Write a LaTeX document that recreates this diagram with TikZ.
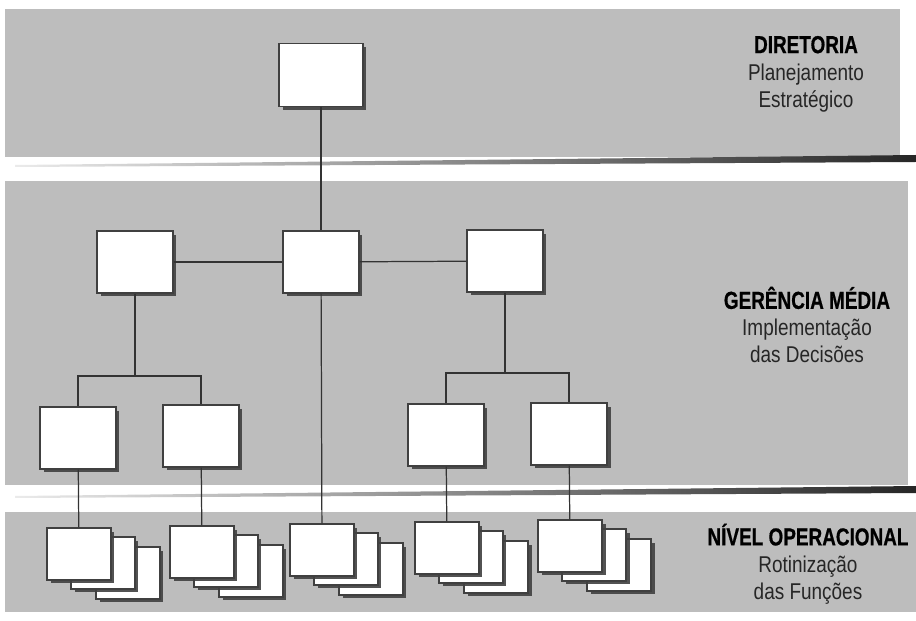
\documentclass[tikz,border=0pt]{standalone}
\usepackage{fontspec}
\newfontfamily\lvlfont{Liberation Sans}[FakeStretch=0.83]
\newfontfamily\lvlbold{Liberation Sans Bold}[FakeStretch=0.77,FakeBold=0.6]
\usetikzlibrary{shadows}
\definecolor{bandgray}{gray}{0.74}
\definecolor{edgegray}{gray}{0.25}
\newcommand{\lvltitle}[1]{{\lvlbold\fontsize{14}{15.4}\selectfont\color{black}#1}}
\begin{document}
\begin{tikzpicture}[x=0.02cm,y=-0.02cm,
    box/.style={draw=edgegray,fill=white,line width=0.6pt,inner sep=0pt,
      drop shadow={shadow xshift=0.07cm,shadow yshift=-0.07cm,fill=black!75,opacity=0.9}},
    bigbox/.style={box,minimum width=1.52cm,minimum height=1.24cm},
    topbox/.style={box,minimum width=1.68cm,minimum height=1.26cm},
    sheet/.style={box,minimum width=1.28cm,minimum height=1.04cm},
    link/.style={draw=black!80,line width=0.7pt},
    lvltxt/.style={align=center,text=black!85,font=\lvlfont\fontsize{13}{15.4}\selectfont}]
                \useasboundingbox (0,0) rectangle (916,621);
                \fill[bandgray] (5,9) rectangle (900,157);
                \fill[bandgray] (5,181) rectangle (908,485);
                \fill[bandgray] (5,512) rectangle (916,612);
                \shade[left color=black!8,right color=black!85] (15,165) -- (916,155) -- (916,162) -- (15,167) -- cycle;
                \shade[left color=black!8,right color=black!85] (15,496) -- (916,486) -- (916,493) -- (15,498) -- cycle;
                \node[topbox] (dir) at (321,75) {};
                \node[bigbox] (gl) at (135,262) {};
                \node[bigbox] (gc) at (321,262) {};
                \node[bigbox] (gr) at (505,261) {};
                \node[bigbox] (oa) at (78,438) {};
                \node[bigbox] (ob) at (201,436) {};
                \node[bigbox] (oc) at (446,435) {};
                \node[bigbox] (od) at (569,434) {};
                \node[sheet] (f1c) at (128,573) {};
                \node[sheet] (f1b) at (103,563) {};
                \node[sheet] (f1) at (79,554) {};
                \node[sheet] (f2c) at (251,571) {};
                \node[sheet] (f2b) at (226,561) {};
                \node[sheet] (f2) at (202,552) {};
                \node[sheet] (f3c) at (371,569) {};
                \node[sheet] (f3b) at (346,559) {};
                \node[sheet] (f3) at (322,550) {};
                \node[sheet] (f4c) at (496,567) {};
                \node[sheet] (f4b) at (471,557) {};
                \node[sheet] (f4) at (447,548) {};
                \node[sheet] (f5c) at (619,565) {};
                \node[sheet] (f5b) at (594,555) {};
                \node[sheet] (f5) at (570,546) {};
                \coordinate (jl) at (135,376);
                \coordinate (jr) at (505,373);
                \draw[link] (dir) -- (gc);
                \draw[link] (gl) -- (gc);
                \draw[link] (gc) -- (gr);
                \draw[link] (gl) -- (jl);
                \draw[link] (oa.north) |- (jl) -| (ob.north);
                \draw[link] (gr) -- (jr);
                \draw[link] (oc.north) |- (jr) -| (od.north);
                \draw[link] (oa) -- (f1);
                \draw[link] (ob) -- (f2);
                \draw[link] (gc) -- (f3);
                \draw[link] (oc) -- (f4);
                \draw[link] (od) -- (f5);
                \node[lvltxt] (dirtxt) at (806,74) {\lvltitle{DIRETORIA}\\Planejamento\\Estratégico};
                \node[lvltxt] (gertxt) at (807,325) {\lvltitle{GERÊNCIA MÉDIA}\\Implementação\\das Decisões};
                \node[lvltxt] (optxt) at (808,564) {\lvltitle{NÍVEL OPERACIONAL}\\Rotinização\\das Funções};
            \end{tikzpicture}
\end{document}
